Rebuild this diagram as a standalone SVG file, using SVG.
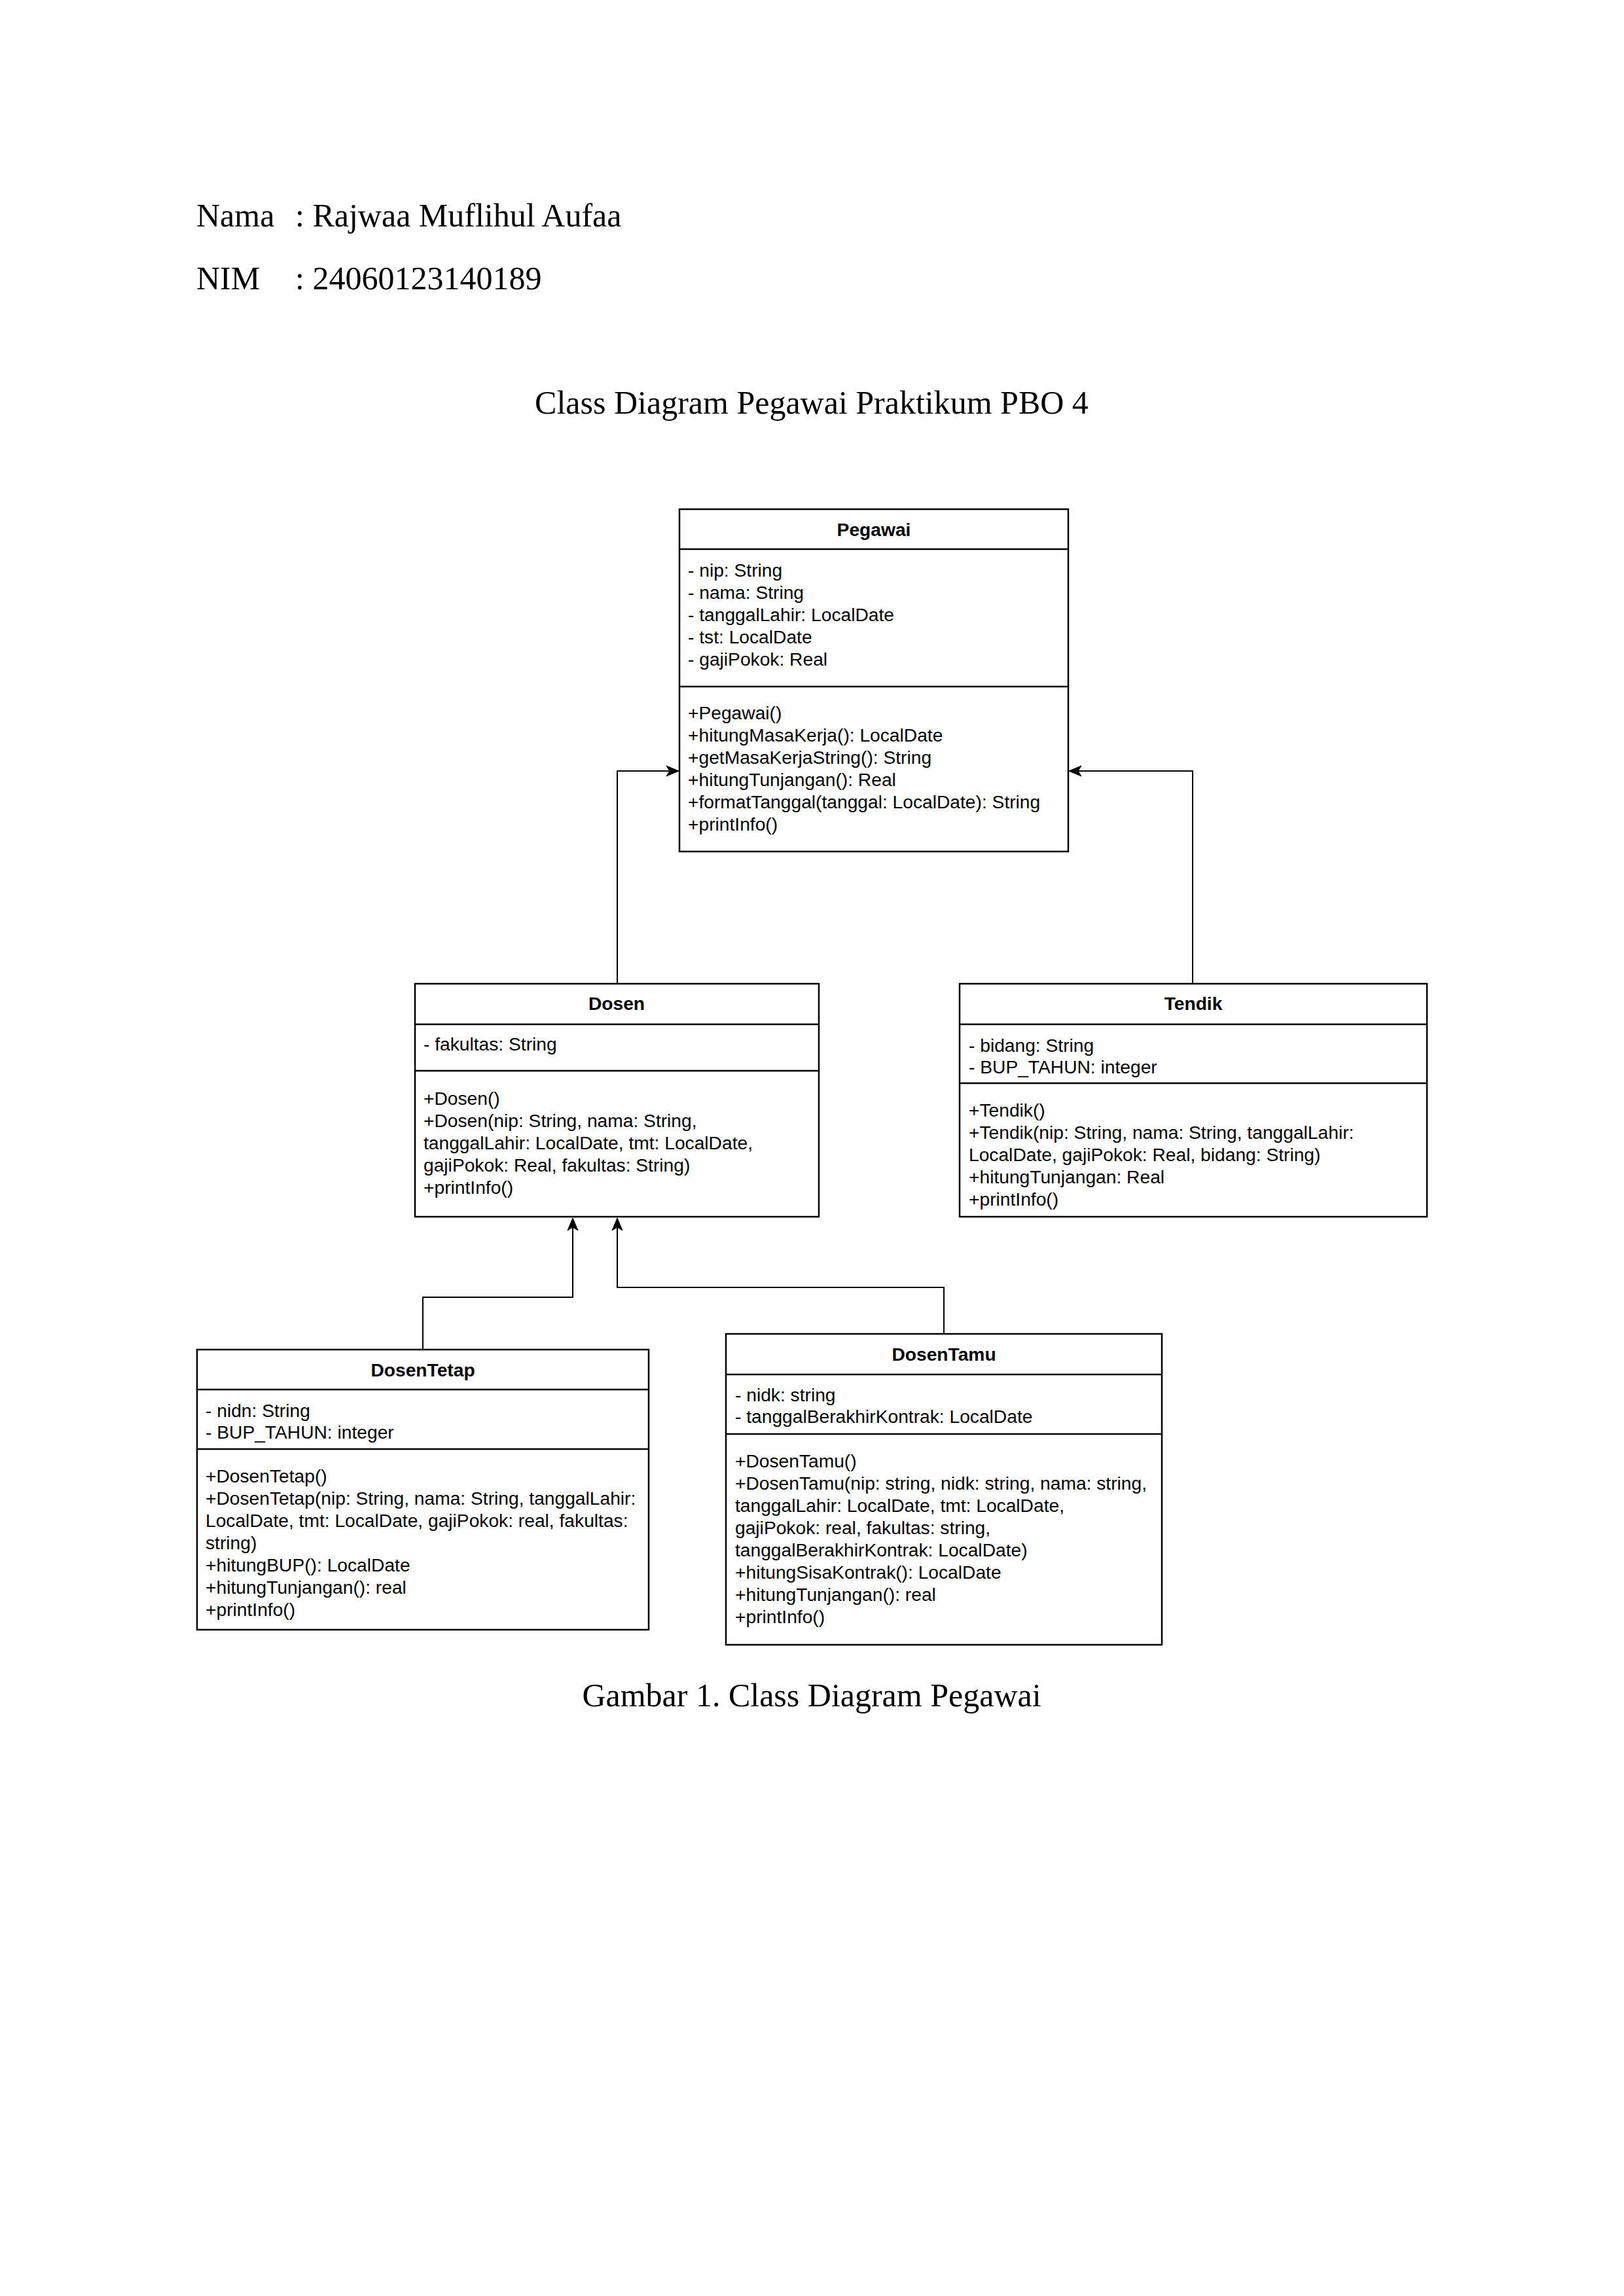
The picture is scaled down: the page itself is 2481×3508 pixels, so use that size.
<svg xmlns="http://www.w3.org/2000/svg" width="2481" height="3508" viewBox="0 0 2481 3508">
<style>
.doc{font-family:"Liberation Serif","Times New Roman",serif;font-size:50px;fill:#000}
.box{fill:#fff;stroke:#000;stroke-width:2.5}
.div{stroke:#000;stroke-width:2.5;fill:none}
.ttl{font-family:"Liberation Sans",Arial,sans-serif;font-size:28.2px;font-weight:bold;fill:#000;text-anchor:middle}
.txt{font-family:"Liberation Sans",Arial,sans-serif;font-size:28.2px;fill:#000}
.con{fill:none;stroke:#000;stroke-width:2}
</style>
<defs>
<marker id="arr" viewBox="-21 -10 23 20" markerWidth="23" markerHeight="20" refX="0" refY="0" orient="auto" markerUnits="userSpaceOnUse">
<path d="M0,0 L-19,-8 L-14,0 L-19,8 Z" fill="#000" stroke="#000" stroke-width="1"/>
</marker>
</defs>
<rect width="2481" height="3508" fill="#fff"/>
<g id="header">
<text class="doc" x="300" y="346">Nama</text>
<text class="doc" x="451" y="346">: Rajwaa Muflihul Aufaa</text>
<text class="doc" x="300" y="442">NIM</text>
<text class="doc" x="451" y="442">: 24060123140189</text>
<text class="doc" x="1240" y="632" text-anchor="middle">Class Diagram Pegawai Praktikum PBO 4</text>
</g>
<g id="connectors">
<polyline class="con" points="943,1503 943,1178 1037,1178" marker-end="url(#arr)"/>
<polyline class="con" points="1822,1503 1822,1178 1633,1178" marker-end="url(#arr)"/>
<polyline class="con" points="646,2062 646,1982 875,1982 875,1861" marker-end="url(#arr)"/>
<polyline class="con" points="1442,2038 1442,1967 943,1967 943,1861" marker-end="url(#arr)"/>
</g>
<g id="Pegawai">
<rect class="box" x="1038" y="778" width="594" height="523"/>
<line class="div" x1="1038" y1="839" x2="1632" y2="839"/>
<line class="div" x1="1038" y1="1049" x2="1632" y2="1049"/>
<text class="ttl" x="1335" y="819">Pegawai</text>
<text class="txt" x="1051" y="881">- nip: String</text>
<text class="txt" x="1051" y="915">- nama: String</text>
<text class="txt" x="1051" y="949">- tanggalLahir: LocalDate</text>
<text class="txt" x="1051" y="983">- tst: LocalDate</text>
<text class="txt" x="1051" y="1017">- gajiPokok: Real</text>
<text class="txt" x="1051" y="1099">+Pegawai()</text>
<text class="txt" x="1051" y="1133">+hitungMasaKerja(): LocalDate</text>
<text class="txt" x="1051" y="1167">+getMasaKerjaString(): String</text>
<text class="txt" x="1051" y="1201">+hitungTunjangan(): Real</text>
<text class="txt" x="1051" y="1235">+formatTanggal(tanggal: LocalDate): String</text>
<text class="txt" x="1051" y="1269">+printInfo()</text>
</g>
<g id="Dosen">
<rect class="box" x="634" y="1503" width="617" height="356"/>
<line class="div" x1="634" y1="1565" x2="1251" y2="1565"/>
<line class="div" x1="634" y1="1636" x2="1251" y2="1636"/>
<text class="ttl" x="942" y="1543">Dosen</text>
<text class="txt" x="647" y="1605">- fakultas: String</text>
<text class="txt" x="647" y="1688">+Dosen()</text>
<text class="txt" x="647" y="1722">+Dosen(nip: String, nama: String,</text>
<text class="txt" x="647" y="1756">tanggalLahir: LocalDate, tmt: LocalDate,</text>
<text class="txt" x="647" y="1790">gajiPokok: Real, fakultas: String)</text>
<text class="txt" x="647" y="1824">+printInfo()</text>
</g>
<g id="Tendik">
<rect class="box" x="1466" y="1503" width="714" height="356"/>
<line class="div" x1="1466" y1="1565" x2="2180" y2="1565"/>
<line class="div" x1="1466" y1="1655" x2="2180" y2="1655"/>
<text class="ttl" x="1823" y="1543">Tendik</text>
<text class="txt" x="1480" y="1607">- bidang: String</text>
<text class="txt" x="1480" y="1640">- BUP_TAHUN: integer</text>
<text class="txt" x="1480" y="1706">+Tendik()</text>
<text class="txt" x="1480" y="1740">+Tendik(nip: String, nama: String, tanggalLahir:</text>
<text class="txt" x="1480" y="1774">LocalDate, gajiPokok: Real, bidang: String)</text>
<text class="txt" x="1480" y="1808">+hitungTunjangan: Real</text>
<text class="txt" x="1480" y="1842">+printInfo()</text>
</g>
<g id="DosenTetap">
<rect class="box" x="301" y="2062" width="690" height="428"/>
<line class="div" x1="301" y1="2123" x2="991" y2="2123"/>
<line class="div" x1="301" y1="2214" x2="991" y2="2214"/>
<text class="ttl" x="646" y="2103">DosenTetap</text>
<text class="txt" x="314" y="2165">- nidn: String</text>
<text class="txt" x="314" y="2198">- BUP_TAHUN: integer</text>
<text class="txt" x="314" y="2265">+DosenTetap()</text>
<text class="txt" x="314" y="2299">+DosenTetap(nip: String, nama: String, tanggalLahir:</text>
<text class="txt" x="314" y="2333">LocalDate, tmt: LocalDate, gajiPokok: real, fakultas:</text>
<text class="txt" x="314" y="2367">string)</text>
<text class="txt" x="314" y="2401">+hitungBUP(): LocalDate</text>
<text class="txt" x="314" y="2435">+hitungTunjangan(): real</text>
<text class="txt" x="314" y="2469">+printInfo()</text>
</g>
<g id="DosenTamu">
<rect class="box" x="1109" y="2038" width="666" height="475"/>
<line class="div" x1="1109" y1="2100" x2="1775" y2="2100"/>
<line class="div" x1="1109" y1="2191" x2="1775" y2="2191"/>
<text class="ttl" x="1442" y="2079">DosenTamu</text>
<text class="txt" x="1123" y="2141">- nidk: string</text>
<text class="txt" x="1123" y="2174">- tanggalBerakhirKontrak: LocalDate</text>
<text class="txt" x="1123" y="2242">+DosenTamu()</text>
<text class="txt" x="1123" y="2276">+DosenTamu(nip: string, nidk: string, nama: string,</text>
<text class="txt" x="1123" y="2310">tanggalLahir: LocalDate, tmt: LocalDate,</text>
<text class="txt" x="1123" y="2344">gajiPokok: real, fakultas: string,</text>
<text class="txt" x="1123" y="2378">tanggalBerakhirKontrak: LocalDate)</text>
<text class="txt" x="1123" y="2412">+hitungSisaKontrak(): LocalDate</text>
<text class="txt" x="1123" y="2446">+hitungTunjangan(): real</text>
<text class="txt" x="1123" y="2480">+printInfo()</text>
</g>
<g id="caption">
<text class="doc" x="1240" y="2607" text-anchor="middle">Gambar 1. Class Diagram Pegawai</text>
</g>
</svg>
